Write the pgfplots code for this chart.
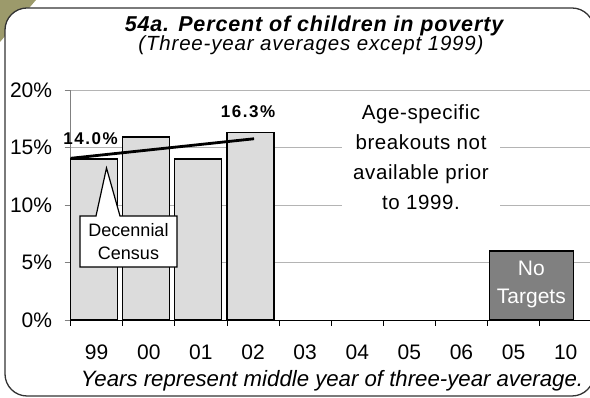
\documentclass[border=0pt]{standalone}
\usepackage{fontspec}
\setmainfont{Liberation Sans}
\newfontfamily\titlefont[LetterSpace=4]{Liberation Sans}
\newfontfamily\spacedfont[LetterSpace=9]{Liberation Sans}
\newfontfamily\midfont[LetterSpace=3]{Liberation Sans}
\usepackage{pgfplots}
\pgfplotsset{compat=1.18}
\definecolor{olivebg}{HTML}{9C9A6B}
\definecolor{framec}{HTML}{333333}
\definecolor{barfill}{HTML}{DCDCDC}
\definecolor{nogray}{HTML}{808080}
\definecolor{gridc}{HTML}{B4B4B4}
\begin{document}
\begin{tikzpicture}[x=1pt,y=1pt]
\useasboundingbox (0,0) rectangle (590,398);
\fill[olivebg] (0,398) -- (36,398) -- (0,356) -- cycle;
\draw[line width=1.3pt, draw=framec, fill=white, rounded corners=22pt] (5,390) rectangle (594,2);
\begin{axis}[
  at={(70.6pt,78pt)}, anchor=south west, scale only axis,
  width=521.2pt, height=230pt,
  xmin=-0.5, xmax=9.5, ymin=0, ymax=20,
  axis x line*=bottom, axis y line*=left,
  x axis line style={black, line width=0.9pt},
  y axis line style={gray, line width=0.9pt},
  tick align=outside, major tick length=6pt,
  xtick={-0.5,0.5,...,9.5}, xticklabel=\empty,
  xtick style={black, line width=0.9pt},
  extra x ticks={0,1,2,3,4,5,6,7,8,9},
  extra x tick labels={99,00,01,02,03,04,05,06,05,10},
  extra x tick style={major tick length=0pt, xticklabel style={anchor=base, yshift=-40pt}},
  ytick={0,5,10,15,20},
  yticklabels={0\%,5\%,10\%,15\%,20\%},
  ytick style={gray, line width=0.9pt},
  yticklabel style={xshift=-9pt},
  ymajorgrids, grid style={gridc, line width=0.9pt},
  tick label style={font=\fontsize{21}{21}\selectfont},
  /pgf/number format/assume math mode=true,
  clip=false,
]
\addplot[ybar, bar width=0.9, bar shift=-0.05, fill=barfill, draw=black, line width=1.3pt]
  coordinates {(0,14.0) (1,15.9) (2,14.0) (3,16.3)};
\addplot[ybar, bar width=1.61, bar shift=0, fill=nogray, draw=black, line width=1.3pt]
  coordinates {(8.34,6.0)};
\addplot[black, line width=2.8pt, no marks] coordinates {(-0.5,14.06) (3.02,15.76)};
\node[font=\spacedfont\bfseries\fontsize{17}{17}\selectfont, inner sep=0pt] at (axis cs:-0.118,15.74) {14.0\%};
\node[font=\spacedfont\bfseries\fontsize{17}{17}\selectfont, inner sep=0pt] at (axis cs:2.904,18.09) {16.3\%};
\node[fill=white, minimum width=158pt, minimum height=116pt, align=center,
  font=\midfont\fontsize{20.5}{30}\selectfont, inner sep=0pt] at (axis cs:6.223,14.17)
  {Age-specific\\breakouts not\\available prior\\to 1999.};
\node[text=white, align=center, font=\fontsize{21}{28}\selectfont, inner sep=0pt] at (axis cs:8.34,3.1) {No\\Targets};
\end{axis}
% callout
\draw[fill=white, draw=black, line width=1.2pt]
  (80,182) -- (96,182) -- (106.5,230) -- (120,182) -- (177,182) -- (177,131) -- (80,131) -- cycle;
\node[align=center, font=\fontsize{18}{23}\selectfont, inner sep=0pt] at (128.5,156.5) {Decennial\\Census};
% titles
\node[font=\titlefont\bfseries\itshape\fontsize{21.5}{21.5}\selectfont, anchor=base, inner sep=0pt] at (314,366) {54a. Percent of children in poverty};
\node[font=\titlefont\itshape\fontsize{20.5}{20.5}\selectfont, anchor=base, inner sep=0pt] at (311,347) {(Three-year averages except 1999)};
\node[font=\itshape\fontsize{22.2}{22.2}\selectfont, anchor=base, inner sep=0pt] at (332,11.3) {Years represent middle year of three-year average.};
\end{tikzpicture}
\end{document}
